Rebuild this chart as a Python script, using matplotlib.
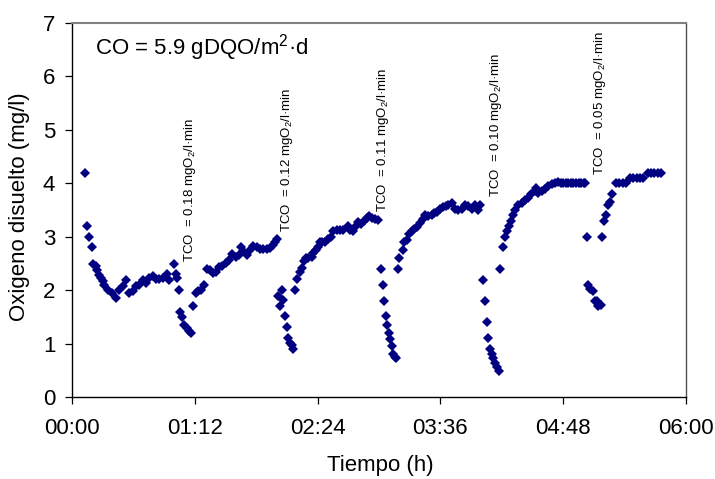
import matplotlib
matplotlib.use("Agg")
import matplotlib.pyplot as plt
from matplotlib.ticker import FuncFormatter, MultipleLocator

plt.rcParams['font.family'] = ['Liberation Sans', 'DejaVu Sans']
plt.rcParams['mathtext.fontset'] = 'custom'
plt.rcParams['mathtext.rm'] = 'Liberation Sans'
plt.rcParams['mathtext.it'] = 'Liberation Sans:italic'

# tiempo en minutos desde 00:00, oxigeno disuelto en mg/l (un tramo por ciclo)
t1 = [7.6, 8.6, 10.0, 11.7, 12.5, 13.9, 14.8, 16.0, 17.0, 18.0, 19.0, 21.3, 23.3, 25.6,
      27.7, 29.7, 31.7, 33.6, 35.6, 37.5, 39.4, 41.4, 43.4, 45.3, 47.3, 49.2, 51.2, 53.2,
      55.5, 57.0, 60.0, 61.0, 61.7, 62.5, 63.3, 64.5, 65.8, 67.2, 68.4, 69.6]
od1 = [4.2, 3.2, 3.0, 2.8, 2.5, 2.45, 2.38, 2.29, 2.23, 2.17, 2.1, 2.0, 1.95, 1.85,
       2.0, 2.08, 2.2, 1.95, 1.98, 2.08, 2.1, 2.2, 2.13, 2.23, 2.26, 2.21, 2.21, 2.23,
       2.31, 2.2, 2.5, 2.31, 2.23, 2.0, 1.6, 1.5, 1.35, 1.29, 1.23, 1.2]

t2 = [71.1, 72.7, 74.0, 75.6, 77.6, 79.3, 80.9, 82.5, 84.2, 86.2, 88.1, 90.1, 92.0, 94.0,
      96.0, 97.9, 99.1, 100.4, 102.4, 104.3, 106.3, 108.3, 110.2, 112.1, 114.1, 116.0,
      117.6, 119.0, 120.0, 121.0, 121.9, 123.0, 123.5, 124.9, 125.8, 126.8, 127.8, 128.8,
      129.7]
od2 = [1.7, 1.95, 1.98, 2.0, 2.1, 2.4, 2.38, 2.33, 2.35, 2.43, 2.46, 2.51, 2.57, 2.68,
       2.62, 2.66, 2.81, 2.73, 2.66, 2.76, 2.83, 2.81, 2.77, 2.77, 2.77, 2.79,
       2.85, 2.91, 2.95, 1.9, 1.71, 2.0, 1.82, 1.51, 1.31, 1.1, 1.02, 0.98,
       0.9]

t3 = [130.7, 132.1, 133.6, 134.6, 136.0, 137.0, 138.5, 140.5, 141.4, 142.8, 144.0, 145.4,
      146.7, 148.3, 150.2, 151.8, 153.2, 155.1, 157.1, 159.0, 161.6, 163.0, 164.5, 166.3,
      167.8, 169.4, 171.2, 172.7, 174.3, 175.7, 177.6, 179.6, 181.0, 182.1, 182.9, 184.1,
      184.8, 185.6, 186.4, 187.4, 188.3, 189.3, 189.9]
od3 = [2.0, 2.21, 2.35, 2.42, 2.54, 2.6, 2.6, 2.63, 2.7, 2.76, 2.81, 2.9,
       2.91, 2.91, 2.96, 3.0, 3.1, 3.12, 3.12, 3.12, 3.21, 3.13, 3.1, 3.2,
       3.27, 3.23, 3.29, 3.35, 3.38, 3.35, 3.33, 3.31, 2.4, 2.1, 1.8, 1.51,
       1.35, 1.21, 1.08, 0.95, 0.8, 0.76, 0.73]

t4 = [190.9, 191.8, 193.8, 194.8, 196.2, 197.7, 199.1, 200.5, 202.0, 204.0, 205.9, 206.9,
      208.9, 210.8, 212.2, 213.8, 215.7, 217.7, 219.2, 220.6, 222.6, 224.5, 226.5, 228.4,
      230.4, 232.3, 234.3, 236.2, 238.2, 239.5, 241.1, 241.9, 243.1, 244.0, 245.0, 246.0,
      247.0, 248.0, 249.0, 250.3]
od4 = [2.4, 2.6, 2.76, 2.9, 2.93, 3.06, 3.1, 3.15, 3.19, 3.25, 3.33, 3.4,
       3.38, 3.4, 3.44, 3.47, 3.51, 3.55, 3.57, 3.6, 3.63, 3.52, 3.5, 3.52,
       3.6, 3.58, 3.52, 3.6, 3.5, 3.6, 2.2, 1.8, 1.4, 1.1, 0.9, 0.8,
       0.73, 0.64, 0.57, 0.5]

t5 = [250.9, 252.8, 253.8, 254.8, 256.1, 257.4, 258.7, 259.7, 261.6, 263.6, 265.5, 267.5,
      269.4, 271.3, 272.0, 273.3, 275.3, 277.2, 279.2, 281.2, 283.1, 285.1, 286.5, 288.0,
      289.5, 291.0, 292.5, 294.0, 295.5, 297.0, 298.5, 300.0, 300.7, 301.9, 302.8, 304.0,
      305.3, 306.4, 307.6, 308.6, 310.0]
od5 = [2.4, 2.8, 3.0, 3.1, 3.2, 3.3, 3.4, 3.5, 3.6, 3.63, 3.68, 3.73,
       3.79, 3.85, 3.91, 3.82, 3.85, 3.9, 3.94, 3.98, 4.0, 4.02, 4.0, 4.0,
       4.0, 4.0, 4.0, 4.0, 4.0, 4.0, 4.0, 4.0, 4.0, 3.0, 2.1, 2.02,
       1.98, 1.8, 1.79, 1.7, 1.73]

t6 = [310.9, 312.0, 313.4, 314.4, 315.5, 316.9, 319.0, 321.0, 323.0, 325.0, 327.0, 329.0,
      331.0, 333.0, 335.0, 337.6, 339.5, 341.5, 343.5, 345.6]
od6 = [3.0, 3.3, 3.4, 3.6, 3.65, 3.8, 4.0, 4.0, 4.0, 4.0, 4.1, 4.1,
       4.1, 4.1, 4.1, 4.2, 4.2, 4.2, 4.2, 4.2]

tiempo = t1 + t2 + t3 + t4 + t5 + t6
oxigeno = od1 + od2 + od3 + od4 + od5 + od6

tco_valores = ['0.18', '0.12', '0.11', '0.10', '0.05']
carga_co = '5.9'


def hhmm(x, pos):
    x = int(round(x))
    return f"{x // 60:02d}:{x % 60:02d}"


fig = plt.figure(figsize=(7.15, 4.79), dpi=100)
ax = fig.add_axes([0.1007, 0.1706, 0.8587, 0.782])

ax.plot(tiempo, oxigeno, linestyle='none', marker='D', markersize=5.6,
        color='#000080', markeredgewidth=0)

ax.set_xlim(0, 360)
ax.set_ylim(0, 7)
ax.xaxis.set_major_locator(MultipleLocator(72))
ax.xaxis.set_major_formatter(FuncFormatter(hhmm))
ax.yaxis.set_major_locator(MultipleLocator(1))

ax.tick_params(axis='both', labelsize=16, length=5, width=0.9, direction='out',
               color='black')
ax.tick_params(axis='x', pad=10)
ax.tick_params(axis='y', pad=7)

for side in ['left', 'bottom']:
    ax.spines[side].set_color('black')
    ax.spines[side].set_linewidth(1.0)
ax.spines['top'].set_color('#808080')
ax.spines['right'].set_color('#505050')
ax.spines['top'].set_linewidth(1.5)
ax.spines['right'].set_linewidth(1.0)

ax.set_xlabel('Tiempo (h)', fontsize=16)
ax.set_ylabel('Oxigeno disuelto (mg/l)', fontsize=16)
ax.xaxis.set_label_coords(0.502, -0.181)
ax.xaxis.label.set_va('center')
ax.yaxis.set_label_coords(-0.085, 0.51)
ax.yaxis.label.set_va('center')

ax.text(0.037, 0.935, f'CO = {carga_co} gDQO/m$^2$·d', transform=ax.transAxes,
        fontsize=16, ha='left', va='center')

# posiciones de las etiquetas verticales (minutos, mg/l)
etiquetas_x = [69.2, 126.0, 182.3, 248.5, 309.5]
etiquetas_y = [2.53, 3.08, 3.47, 3.75, 4.16]
for val, xx, yy in zip(tco_valores, etiquetas_x, etiquetas_y):
    ax.text(xx, yy, f'TCO  = {val} mgO$_2$/l·min', rotation=90, fontsize=9.5,
            ha='center', va='bottom')

fig.savefig('out.png', dpi=100)
